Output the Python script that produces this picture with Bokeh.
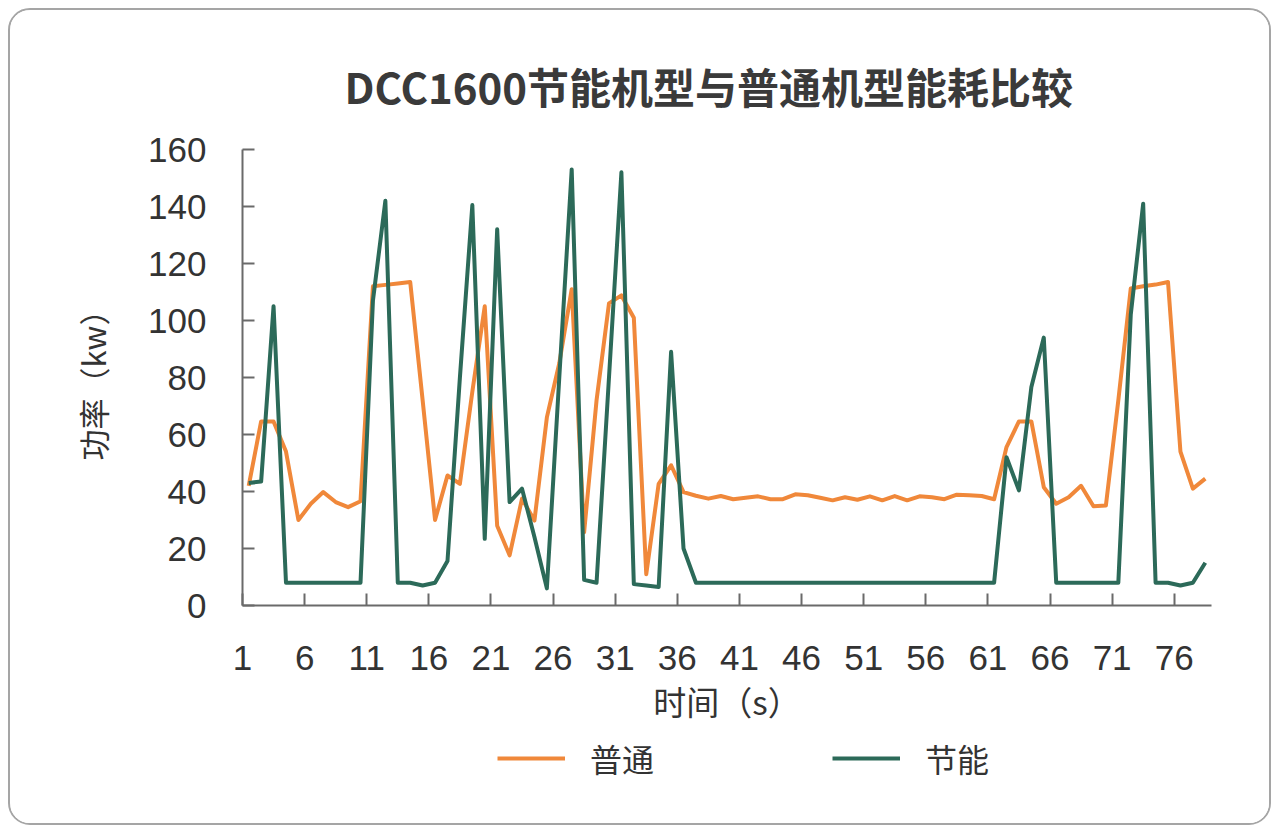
from bokeh.plotting import figure
from bokeh.layouts import column
from bokeh.models import Range1d, FixedTicker, Legend, LegendItem
from bokeh.embed import file_html
from bokeh.resources import INLINE

# ---- data ----
seconds = list(range(1, 79))

putong = [42, 64.6, 64.6, 54, 30, 35.7, 39.8, 36.3, 34.5, 36.6,
          112, 112.5, 113, 113.5, 72, 30, 45.6, 42.7, 75, 105,
          28, 17.6, 37.5, 29.8, 66, 85, 111, 25.7, 72, 106,
          108.8, 101, 11, 42.7, 49.2, 39.8, 38.5, 37.5, 38.4, 37.3,
          37.8, 38.3, 37.3, 37.3, 39.0, 38.7, 37.8, 36.9, 38.0, 37.1,
          38.3, 36.9, 38.4, 36.9, 38.3, 38.0, 37.3, 38.9, 38.7, 38.4,
          37.3, 55.6, 64.6, 64.6, 41.5, 35.7, 38, 42, 34.8, 35.1,
          72, 111.2, 112, 112.6, 113.5, 54, 41, 44.5]

jieneng = [43, 43.5, 105, 8, 8, 8, 8, 8, 8, 8,
           107, 142, 8, 8, 7, 8, 15.6, 80, 140.5, 23.4,
           132, 36.3, 41, 24, 6, 80, 153, 9, 8, 80,
           152, 7.5, 7, 6.5, 89, 20,
           8, 8, 8, 8, 8, 8, 8, 8, 8, 8, 8, 8, 8, 8, 8, 8, 8, 8, 8, 8, 8, 8, 8, 8, 8,
           52, 40.4, 76.7, 94,
           8, 8, 8, 8, 8, 8,
           102, 141, 8, 8, 7, 8, 15]

tick_labels = ["1", "6", "11", "16", "21", "26", "31", "36", "41", "46",
               "51", "56", "61", "66", "71", "76"]
y_ticks = [0, 20, 40, 60, 80, 100, 120, 140, 160]

series_names = ["普通", "节能"]
title_text = "DCC1600节能机型与普通机型能耗比较"
x_title = "时间（s）"
y_title = "功率（kw）"

ORANGE = "#F0883A"
GREEN = "#2C6A59"
AXIS = "#6a6a6a"
TEXT = "#333333"

FIG_W = 1259

p = figure(frame_width=969, frame_height=456,
           min_border_left=232, min_border_right=FIG_W - 232 - 969,
           min_border_top=139, min_border_bottom=130,
           x_range=Range1d(0.5, len(seconds) + 0.5),
           y_range=Range1d(0, 160),
           output_backend="svg", toolbar_location=None,
           background_fill_color="white", border_fill_color="white")

r1 = p.line(seconds, putong, line_color=ORANGE, line_width=4, line_join="round")
r2 = p.line(seconds, jieneng, line_color=GREEN, line_width=4, line_join="round")

p.xgrid.visible = False
p.ygrid.visible = False
p.outline_line_color = None

# title
p.title.text = title_text
p.title.align = "left"
p.title.offset = 102
p.title.text_font = "Noto Sans CJK SC"
p.title.text_font_size = "42px"
p.title.text_font_style = "bold"
p.title.text_color = "#3a3a3a"
p.title.standoff = 68

# x axis
xpos = [int(t) - 0.5 for t in tick_labels]
p.xaxis.ticker = FixedTicker(ticks=xpos)
p.xaxis.major_label_overrides = {x: t for x, t in zip(xpos, tick_labels)}
p.xaxis.minor_tick_line_color = None
p.xaxis.major_tick_in = 12
p.xaxis.major_tick_out = 0
p.xaxis.axis_line_color = AXIS
p.xaxis.axis_line_width = 2
p.xaxis.major_tick_line_color = AXIS
p.xaxis.major_tick_line_width = 2
p.xaxis.major_label_text_font = "Liberation Sans"
p.xaxis.major_label_text_font_size = "35px"
p.xaxis.major_label_text_color = TEXT
p.xaxis.major_label_standoff = 40
p.xaxis.axis_label = x_title
p.xaxis.axis_label_text_font = "Noto Sans CJK SC"
p.xaxis.axis_label_text_font_size = "33px"
p.xaxis.axis_label_text_font_style = "normal"
p.xaxis.axis_label_text_color = TEXT
p.xaxis.axis_label_standoff = 4

# y axis
p.yaxis.ticker = FixedTicker(ticks=y_ticks)
p.yaxis.minor_tick_line_color = None
p.yaxis.major_tick_in = 12
p.yaxis.major_tick_out = 0
p.yaxis.axis_line_color = AXIS
p.yaxis.axis_line_width = 2
p.yaxis.major_tick_line_color = AXIS
p.yaxis.major_tick_line_width = 2
p.yaxis.major_label_text_font = "Liberation Sans"
p.yaxis.major_label_text_font_size = "35px"
p.yaxis.major_label_text_color = TEXT
p.yaxis.major_label_standoff = 36
p.yaxis.axis_label = y_title
p.yaxis.axis_label_text_font = "Noto Sans CJK SC"
p.yaxis.axis_label_text_font_size = "31px"
p.yaxis.axis_label_text_font_style = "normal"
p.yaxis.axis_label_text_color = TEXT
p.yaxis.axis_label_standoff = 30

# ---- legend strip (a second, axis-less figure under the chart) ----
LEG_H = 88
q = figure(frame_width=FIG_W, frame_height=LEG_H,
           min_border_left=0, min_border_right=0, min_border_top=0, min_border_bottom=0,
           x_range=Range1d(0, FIG_W), y_range=Range1d(0, LEG_H),
           x_axis_location=None, y_axis_location=None,
           output_backend="svg", toolbar_location=None,
           background_fill_color="white", border_fill_color="white")
q.xgrid.visible = False
q.ygrid.visible = False
q.outline_line_color = None
# proxy renderers for the legend keys (placed outside the visible strip)
l1 = q.line(seconds[:2], [-100, -100], line_color=ORANGE, line_width=4)
l2 = q.line(seconds[:2], [-100, -100], line_color=GREEN, line_width=4)

legend = Legend(items=[LegendItem(label=series_names[0], renderers=[l1]),
                       LegendItem(label=series_names[1], renderers=[l2])],
                orientation="horizontal", location=(487, 42),
                glyph_width=68, glyph_height=36, label_height=36,
                label_standoff=25, spacing=178, padding=0, margin=0,
                border_line_color=None, background_fill_alpha=0,
                label_text_font="Noto Sans CJK SC", label_text_font_size="32px",
                label_text_color=TEXT)
q.add_layout(legend)

layout = column(p, q, spacing=0)
layout.styles = {"border": "2px solid #a5a5a5", "border-radius": "22px",
                 "overflow": "hidden", "margin-left": "8px", "margin-top": "8px",
                 "background": "white"}

open("out.html", "w").write(file_html(layout, INLINE))
